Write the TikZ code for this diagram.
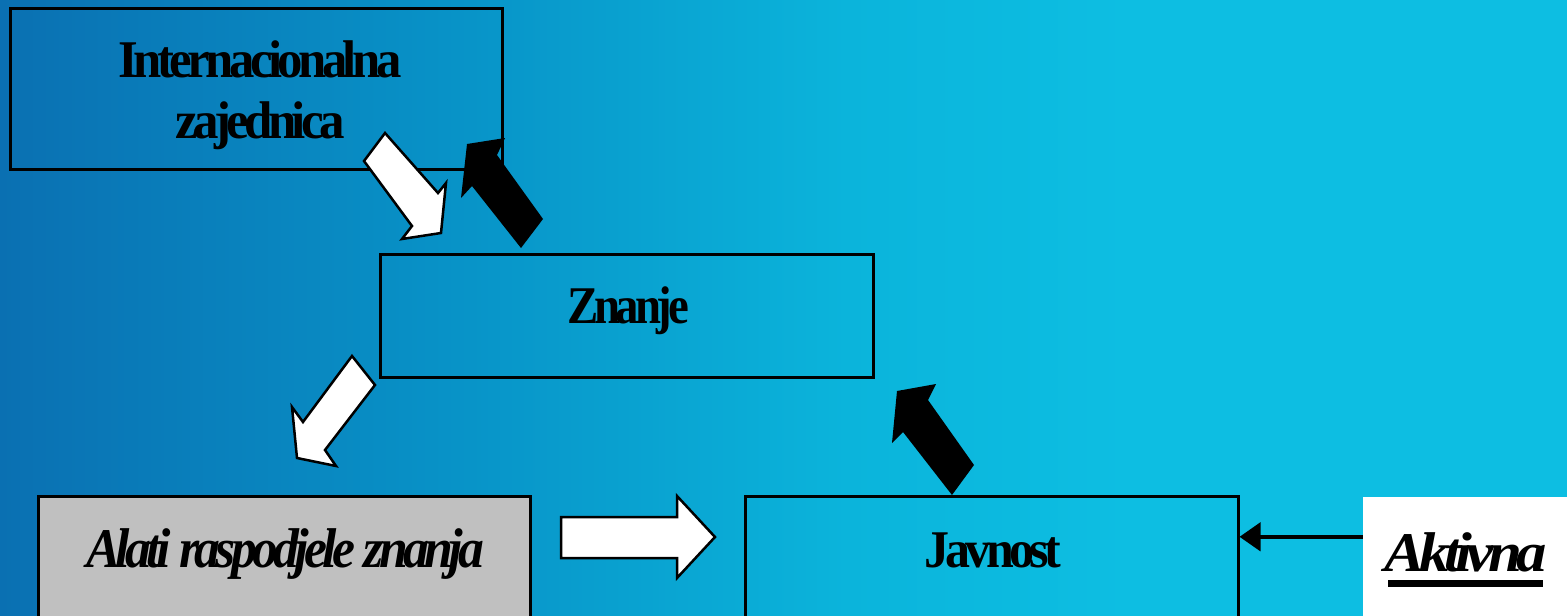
\documentclass[tikz,border=0pt]{standalone}
\usepackage{fontspec}
\setmainfont{Liberation Serif}
\newfontfamily\tnrfam[LetterSpace=-9]{Liberation Serif}
\usepackage{graphicx}
\usetikzlibrary{arrows.meta}
\definecolor{bgA}{RGB}{10,112,178}
\definecolor{bgB}{RGB}{8,148,200}
\definecolor{bgC}{RGB}{11,180,219}
\definecolor{bgD}{RGB}{13,190,226}
\definecolor{grayC}{RGB}{192,192,192}
\pgfdeclarehorizontalshading{bgshade}{100bp}{color(0bp)=(bgA); color(25bp)=(bgA); color(40bp)=(bgB); color(52bp)=(bgC); color(61bp)=(bgD); color(100bp)=(bgD)}
\newcommand\fitw[2]{\resizebox{#1}{\height}{#2}}
\newcommand\uprfont{\tnrfam\bfseries\fontsize{53}{60}\selectfont}
\newcommand\itlfont{\tnrfam\bfseries\itshape\fontsize{56}{64}\selectfont}
\begin{document}
\begin{tikzpicture}[x=1pt,y=-1pt,
  box/.style={draw=black, line width=3pt, inner sep=0pt},
  lab/.style={inner sep=0pt, anchor=base},
  wblock/.style={fill=white, draw=black, line width=2.5pt, line join=miter},
  bblock/.style={fill=black}]
\useasboundingbox (0,0) rectangle (1567,616);
\clip (0,0) rectangle (1567,616);
\shade[shading=bgshade] (0,0) rectangle (1567,616);

% boxes
\node[box, minimum width=492pt, minimum height=161pt] (intl) at (256,88.5) {};
\node[box, minimum width=493pt, minimum height=123pt] (zn) at (626.5,315.5) {};
\node[box, fill=grayC, minimum width=492pt, minimum height=184pt] (alati) at (284,588) {};
\node[box, minimum width=493pt, minimum height=184pt] (jav) at (991.5,588) {};
\node[fill=white, inner sep=0pt, minimum width=237pt, minimum height=183pt] (akt) at (1481.5,588.5) {};

% texts
\node[lab, font=\uprfont] (tintl1) at (260,77) {\fitw{283pt}{Internacionalna}};
\node[lab, font=\uprfont] (tintl2) at (260,138) {\fitw{170pt}{zajednica}};
\node[lab, font=\uprfont] (tzn) at (628,323) {\fitw{122pt}{Znanje}};
\node[lab, font=\itlfont] (talati) at (285,567) {\fitw{398pt}{Alati raspodjele znanja}};
\node[lab, font=\uprfont] (tjav) at (993,567) {\fitw{137pt}{Javnost}};
\node[lab, font=\itlfont] (takt) at (1465.5,571) {\fitw{163pt}{Aktivna}};
\fill ([xshift=4pt,yshift=-9pt]takt.base west) rectangle ([xshift=-4pt,yshift=-16pt]takt.base east);

% connector
\path (akt.north west) ++(0,40) coordinate (aktport);
\draw[line width=4.5pt, -{Triangle[length=21pt,width=28pt]}] (aktport) -- (aktport -| jav.east);

% block arrows
\filldraw[wblock] (364,161) -- (385,133) -- (438,193) -- (446,183) -- (441,233) -- (402,239) -- (412,226) -- cycle;
\fill[bblock] (467,144) -- (505,138) -- (497,155) -- (543,219) -- (521,248) -- (472,186) -- (461,198) -- cycle;
\filldraw[wblock] (352,356) -- (375,385) -- (325,450) -- (336,466) -- (297,458) -- (292,407) -- (303,422) -- cycle;
\fill[bblock] (897,391) -- (936,384) -- (928,400) -- (974,465) -- (952,495) -- (903,432) -- (892,443) -- cycle;
\filldraw[wblock] (561,517) -- (677,517) -- (677,496) -- (715,537) -- (677,578) -- (677,558) -- (561,558) -- cycle;
\end{tikzpicture}
\end{document}
